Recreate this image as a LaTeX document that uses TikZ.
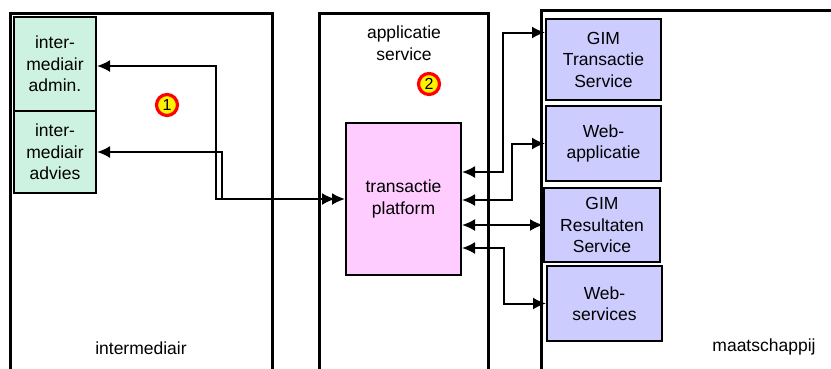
\documentclass[tikz,border=0pt]{standalone}
\usepackage{fontspec}
\setmainfont{Liberation Sans}
\usetikzlibrary{arrows.meta}
\definecolor{imgreen}{RGB}{206,242,226}
\definecolor{tppink}{RGB}{255,204,255}
\definecolor{msblue}{RGB}{204,204,255}
\begin{document}
\begin{tikzpicture}[x=1pt,y=-1pt,
  every node/.style={font=\fontsize{17.5}{21.5}\selectfont, align=center},
  panel/.style={draw, line width=3pt},
  box/.style={draw, line width=2pt, inner sep=0pt},
  num/.style={circle, draw=red, fill=yellow, line width=3.2pt, minimum size=21pt, inner sep=0pt, font=\fontsize{16}{16}\selectfont},
  conn/.style={line width=2pt, {Latex[length=13pt,width=12pt]}-{Latex[length=13pt,width=12pt]}}]
\useasboundingbox (0,0) rectangle (831,368);
\draw[panel] (10,385) |- (272,13) -- (272,385);
\draw[panel] (319,385) |- (488,13) -- (488,385);
\draw[panel] (541,385) |- (845,10);
\node[box, fill=imgreen, minimum width=82pt, minimum height=94pt] (ib0) at (55,64) {inter-\\mediair\\admin.};
\node[box, fill=imgreen, minimum width=82pt, minimum height=82pt] (ib1) at (55,152) {inter-\\mediair\\advies};
\node[box, fill=tppink, minimum width=115pt, minimum height=152pt] (tp) at (403.5,199) {transactie\\platform};
\node[box, fill=msblue, minimum width=115pt, minimum height=81pt] (ms0) at (603.5,59.5) {GIM\\Transactie\\Service};
\node[box, fill=msblue, minimum width=115pt, minimum height=75pt] (ms1) at (603.5,143.5) {Web-\\applicatie};
\node[box, fill=msblue, minimum width=116pt, minimum height=74pt] (ms2) at (602,225) {GIM\\Resultaten\\Service};
\node[box, fill=msblue, minimum width=115pt, minimum height=75pt] (ms3) at (604.5,303.5) {Web-\\services};
\node (lb0) at (141,348) {intermediair};
\node (lb1) at (404,43) {applicatie\\service};
\node (lb2) at (764,347) {maatschappij};
\node[num] (nr1) at (167,105) {1};
\node[num] (nr2) at (429,84) {2};
\draw[conn] ([yshift=-2pt]ib0.east) -- ++(119,0) |- (tp.west);
\draw[conn, shorten >=10pt] (ib1.east) -- ++(125,0) |- (tp.west);
\draw[conn] ([yshift=27pt]tp.east) -- ++(41,0) |- ([yshift=27pt]ms0.west);
\draw[conn] ([yshift=-1pt]tp.east) -- ++(50,0) |- (ms1.west);
\draw[conn] ([yshift=-26pt]tp.east) -- (ms2.west);
\draw[conn] ([yshift=-49pt]tp.east) -- ++(42,0) |- (ms3.west);
\end{tikzpicture}
\end{document}
